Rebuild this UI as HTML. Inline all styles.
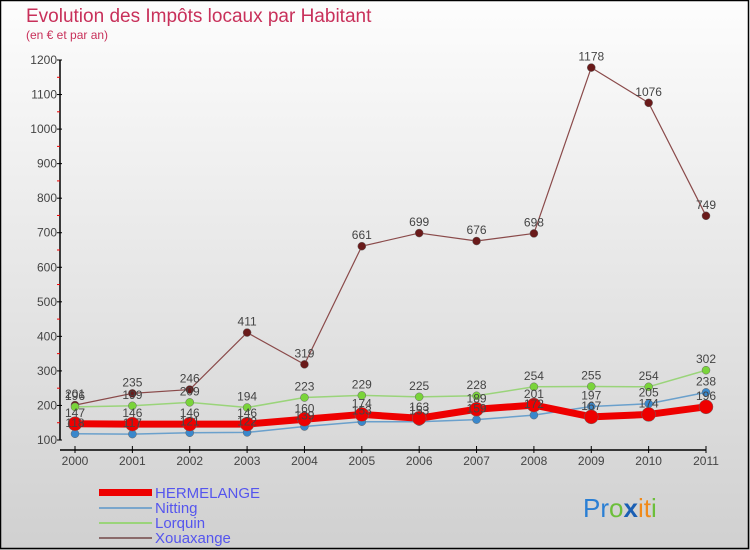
<!DOCTYPE html>
<html><head><meta charset="utf-8"><style>
html,body{margin:0;padding:0;}
body{width:750px;height:550px;overflow:hidden;font-family:"Liberation Sans",sans-serif;}
svg{display:block;}
</style></head><body>
<svg id="chart" width="750" height="550" xmlns="http://www.w3.org/2000/svg">
<defs>
<linearGradient id="bg" x1="0" y1="0" x2="0" y2="1">
<stop offset="0" stop-color="#fdfdfd"/><stop offset="1" stop-color="#d0d0d0"/>
</linearGradient>
</defs>
<rect x="0" y="0" width="750" height="550" fill="url(#bg)"/>
<rect x="0.5" y="0.5" width="748" height="548" fill="none" stroke="#000" stroke-width="1.5"/>
<text x="26" y="22" font-size="19" fill="#c8305a">Evolution des Impôts locaux par Habitant</text>
<text x="26" y="39" font-size="12" fill="#c8305a">(en € et par an)</text>
<g id="axes"></g>
<g id="series"></g>
<g id="labels"></g>
<g>
<rect x="99" y="489" width="53" height="7" fill="#e00"/>
<text x="155" y="498" font-size="15" fill="#5555ee">HERMELANGE</text>
<line x1="99" y1="508" x2="152" y2="508" stroke="#7aa6cc" stroke-width="2"/>
<text x="155" y="513" font-size="15" fill="#5555ee">Nitting</text>
<line x1="99" y1="523" x2="152" y2="523" stroke="#9ad47a" stroke-width="2"/>
<text x="155" y="528" font-size="15" fill="#5555ee">Lorquin</text>
<line x1="99" y1="538" x2="152" y2="538" stroke="#8a6a6a" stroke-width="2"/>
<text x="155" y="543" font-size="15" fill="#5555ee">Xouaxange</text>
</g>
<g font-size="26">
<text x="583" y="517"><tspan fill="#2a7fd4">Pr</tspan><tspan fill="#6cbf3a">o</tspan><tspan fill="#1a5fb4" font-weight="bold">x</tspan><tspan fill="#f08a1a">it</tspan><tspan fill="#6cbf3a">i</tspan></text>
</g>
</svg>
<script>
const years=["2000","2001","2002","2003","2004","2005","2006","2007","2008","2009","2010","2011"];
const yTicks=[100,200,300,400,500,600,700,800,900,1000,1100,1200];
const hermelange=[147,146,146,146,160,174,163,189,201,167,174,196];
const nitting=[118,117,121,122,139,153,153,159,172,197,205,238];
const lorquin=[196,199,209,194,223,229,225,228,254,255,254,302];
const xouaxange=[201,235,246,411,319,661,699,676,698,1178,1076,749];
const NS="http://www.w3.org/2000/svg";
function xs(i){return 75+i*(706-75)/11;}
function ys(v){return 440-(v-100)*(380/1100);}
function mk(tag,attrs,parent){const e=document.createElementNS(NS,tag);for(const k in attrs)e.setAttribute(k,attrs[k]);parent.appendChild(e);return e;}
const axes=document.getElementById('axes');
const ax=mk('line',{x1:60,y1:60,x2:60,y2:440,stroke:'#000','stroke-width':1.5},axes);


const xa=mk('line',{x1:60,y1:450,x2:706,y2:450,stroke:'#000','stroke-width':1.5},axes);


yTicks.forEach(v=>{
  const y=ys(v);
  mk('line',{x1:57,y1:y,x2:62,y2:y,stroke:'#000'},axes);
  const t=mk('text',{x:57,y:y+4,'font-size':12,fill:'#444','text-anchor':'end'},axes);
  t.textContent=v;
  
  
  if(v<1200){mk('line',{x1:57,y1:ys(v+50),x2:60,y2:ys(v+50),stroke:'#e00'},axes);}
});
years.forEach((yr,i)=>{
  const x=xs(i);
  mk('line',{x1:x,y1:446,x2:x,y2:453,stroke:'#000'},axes);
  const t=mk('text',{x:x,y:465,'font-size':12,fill:'#444','text-anchor':'middle'},axes);
  t.textContent=yr;
  
  
});
const sg=document.getElementById('series'), lg=document.getElementById('labels');
function series(name,data,color,width,r,dot){
  const pts=data.map((v,i)=>xs(i)+','+ys(v)).join(' ');
  const pl=mk('polyline',{points:pts,fill:'none',stroke:color,'stroke-width':width,'stroke-linejoin':'round'},sg);
  
  
  data.forEach((v,i)=>{
    const c=mk('circle',{cx:xs(i),cy:ys(v),r:r,fill:dot,stroke:'#666','stroke-width':0.5},sg);
    
    
    const t=mk('text',{x:xs(i),y:ys(v)-7,'font-size':12,fill:'#444','text-anchor':'middle'},lg);
    t.textContent=v;
    
    
  });
}
series('xouaxange',xouaxange,'#8a4a4a',1.2,4,'#6a1a1a');
series('lorquin',lorquin,'#9ad47a',1.5,4,'#7ad43a');
series('nitting',nitting,'#6aa0cc',1.5,4,'#3a88cc');
series('hermelange',hermelange,'#ee0000',7,7,'#ee0000');
</script>
</body></html>
